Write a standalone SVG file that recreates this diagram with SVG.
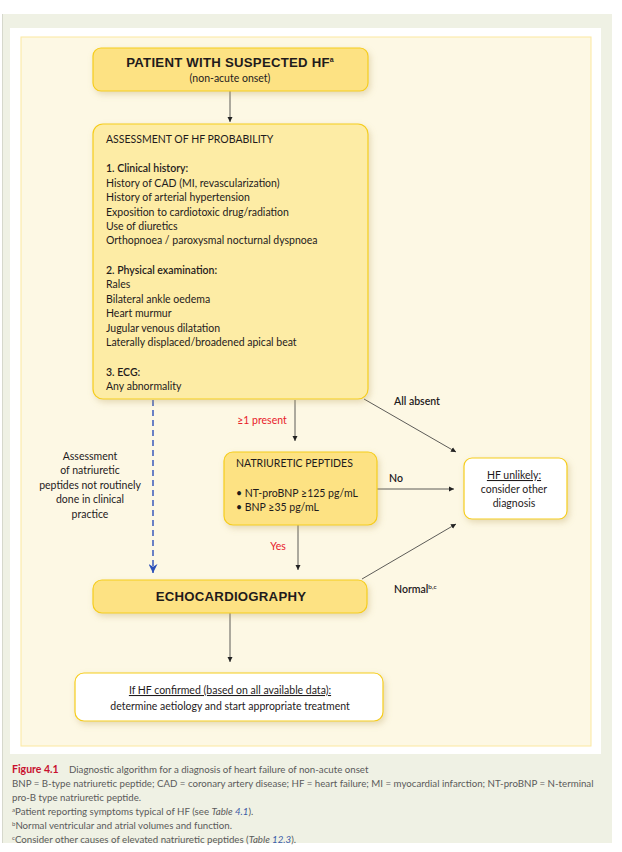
<svg xmlns="http://www.w3.org/2000/svg" width="622" height="852" viewBox="0 0 622 852">
<style>
text{font-family:Lato,"Liberation Sans",sans-serif;fill:#1f1b1c;font-size:10.5px}
.b{font-weight:bold}
.h{font-family:"Liberation Sans",Arial,sans-serif;font-weight:bold;font-size:13.2px;letter-spacing:0.25px}
.c{text-anchor:middle}
.red{fill:#e8202a}
.cap{font-size:9.7px;fill:#5a5a5a}
.gold{fill:#fde283;stroke:#f6cd1c;stroke-width:1.2}
.pale{fill:#fdeca5;stroke:#f6cd1c;stroke-width:1.2}
.white{fill:#ffffff;stroke:#f6cd1c;stroke-width:1.2}
.ln{stroke:#333;stroke-width:0.8;fill:none}
</style>
<defs>
<marker id="ah" viewBox="0 0 10 10" refX="10" refY="5" markerWidth="5" markerHeight="6" markerUnits="userSpaceOnUse" orient="auto">
<path d="M0,0 L10,5 L0,10 z" fill="#222"/>
</marker>
<marker id="bh" viewBox="0 0 10 10" refX="10" refY="5" markerWidth="9" markerHeight="9" markerUnits="userSpaceOnUse" orient="auto">
<path d="M0,0 L10,5 L0,10 L3,5 z" fill="#2b4fb8"/>
</marker>
<filter id="sh" x="-10%" y="-10%" width="130%" height="140%">
<feDropShadow dx="2" dy="3" stdDeviation="3" flood-color="#b8a060" flood-opacity="0.35"/>
</filter>
</defs>
<rect x="0" y="0" width="622" height="852" fill="#ffffff"/>
<rect x="2" y="14" width="610" height="829" fill="#eff1e4"/>
<line x1="2.5" y1="14" x2="2.5" y2="843" stroke="#d6d8cc" stroke-width="1"/>
<rect x="10" y="28" width="591" height="726" fill="#ffffff"/>
<rect x="21" y="37" width="570" height="709" fill="#fdf8e4" stroke="#fbe8a0" stroke-width="1"/>

<g id="connectors">
<line class="ln" x1="230" y1="91" x2="230" y2="122" marker-end="url(#ah)"/>
<line x1="153" y1="400" x2="153" y2="573" stroke="#2b4fb8" stroke-width="1.4" stroke-dasharray="6,4" marker-end="url(#bh)"/>
<line class="ln" x1="295" y1="400" x2="295" y2="441" marker-end="url(#ah)"/>
<line class="ln" x1="298" y1="525" x2="298" y2="570" marker-end="url(#ah)"/>
<line class="ln" x1="377" y1="489" x2="454" y2="489" marker-end="url(#ah)"/>
<line class="ln" x1="364" y1="399" x2="456" y2="452" marker-end="url(#ah)"/>
<line class="ln" x1="362" y1="579" x2="456" y2="524" marker-end="url(#ah)"/>
<line class="ln" x1="230" y1="613" x2="230" y2="662" marker-end="url(#ah)"/>
<text class="red c" x="262" y="424" font-size="11">≥1 present</text>
<text class="red c" x="278" y="550" font-size="11">Yes</text>
<text x="389" y="482" font-size="11" style="font-weight:600">No</text>
<text x="394" y="405" font-size="11" style="font-weight:600">All absent</text>
<text x="394" y="593" font-size="11" style="font-weight:600">Normal<tspan font-size="6.5" dy="-4">b,c</tspan></text>
<text class="c" x="90" y="460" font-size="11">Assessment</text>
<text class="c" x="90" y="474" font-size="11">of natriuretic</text>
<text class="c" x="90" y="489" font-size="11">peptides not routinely</text>
<text class="c" x="90" y="503" font-size="11">done in clinical</text>
<text class="c" x="90" y="518" font-size="11">practice</text>
</g>

<g id="patient">
<rect class="gold" x="93" y="48" width="275" height="43" rx="8" filter="url(#sh)"/>
<text class="h c" x="230" y="67">PATIENT WITH SUSPECTED HF<tspan font-size="7" dy="-5" letter-spacing="0">a</tspan></text>
<text class="c" x="230" y="82" font-size="12.5">(non-acute onset)</text>
</g>

<g id="assessment">
<rect class="pale" x="93" y="124" width="275" height="275" rx="10" filter="url(#sh)"/>
<text x="106" y="143" font-size="11">ASSESSMENT OF HF PROBABILITY</text>
<text x="106" y="172" style="font-weight:600">1. Clinical history:</text>
<text x="106" y="187">History of CAD (MI, revascularization)</text>
<text x="106" y="201">History of arterial hypertension</text>
<text x="106" y="216">Exposition to cardiotoxic drug/radiation</text>
<text x="106" y="230">Use of diuretics</text>
<text x="106" y="244">Orthopnoea / paroxysmal nocturnal dyspnoea</text>
<text x="106" y="274" style="font-weight:600">2. Physical examination:</text>
<text x="106" y="288">Rales</text>
<text x="106" y="303">Bilateral ankle oedema</text>
<text x="106" y="317">Heart murmur</text>
<text x="106" y="332">Jugular venous dilatation</text>
<text x="106" y="346">Laterally displaced/broadened apical beat</text>
<text x="106" y="376" style="font-weight:600">3. ECG:</text>
<text x="106" y="390">Any abnormality</text>
</g>

<g id="peptides">
<rect class="gold" x="224" y="452" width="153" height="73" rx="9" filter="url(#sh)"/>
<text x="236" y="467" font-size="11.3">NATRIURETIC PEPTIDES</text>
<text x="236" y="497">• NT-proBNP ≥125 pg/mL</text>
<text x="236" y="511">• BNP  ≥35 pg/mL</text>
</g>

<g id="unlikely">
<rect class="white" x="464" y="458" width="103" height="61" rx="8" filter="url(#sh)"/>
<text class="c" x="514" y="479" font-size="11" text-decoration="underline">HF unlikely:</text>
<text class="c" x="514" y="493" font-size="11">consider other</text>
<text class="c" x="514" y="507" font-size="11">diagnosis</text>
</g>

<g id="echo">
<rect class="gold" x="93" y="580" width="274" height="33" rx="9" filter="url(#sh)"/>
<text class="h c" x="231" y="601">ECHOCARDIOGRAPHY</text>
</g>

<g id="confirmed">
<rect class="white" x="75" y="673" width="308" height="48" rx="9" filter="url(#sh)"/>
<text class="c" x="230" y="694" font-size="11.2" text-decoration="underline">If HF confirmed (based on all available data):</text>
<text class="c" x="230" y="710" font-size="11.2">determine aetiology and start appropriate treatment</text>
</g>

<g id="caption">
<text x="12" y="773" class="b" font-size="11.5" style="fill:#c8102e">Figure 4.1</text>
<text x="69" y="773" class="cap">Diagnostic algorithm for a diagnosis of heart failure of non-acute onset</text>
<text x="12" y="787" class="cap">BNP = B-type natriuretic peptide; CAD = coronary artery disease; HF = heart failure; MI = myocardial infarction; NT-proBNP = N-terminal</text>
<text x="12" y="801" class="cap">pro-B type natriuretic peptide.</text>
<text x="12" y="815" class="cap"><tspan font-size="6" dy="-3">a</tspan><tspan dy="3">Patient reporting symptoms typical of HF (see </tspan><tspan font-style="italic">Table </tspan><tspan style="fill:#3a5ba8" font-style="italic">4.1</tspan>).</text>
<text x="12" y="829" class="cap"><tspan font-size="6" dy="-3">b</tspan><tspan dy="3">Normal ventricular and atrial volumes and function.</tspan></text>
<text x="12" y="843" class="cap"><tspan font-size="6" dy="-3">c</tspan><tspan dy="3">Consider other causes of elevated natriuretic peptides (</tspan><tspan font-style="italic">Table </tspan><tspan style="fill:#3a5ba8" font-style="italic">12.3</tspan>).</text>
</g>
</svg>
